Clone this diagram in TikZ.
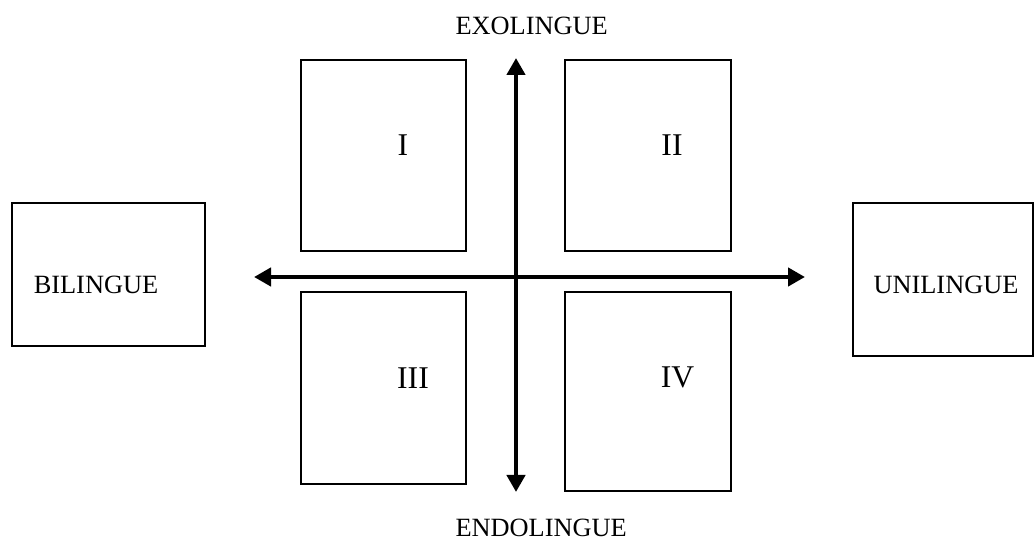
\documentclass[tikz,border=0pt]{standalone}
\usepackage{fontspec}
\setmainfont{Liberation Serif}
\usetikzlibrary{arrows.meta}

\tikzset{
  quad/.style={draw, line width=0.6, black, inner sep=0, outer sep=0},
  word/.style={align=center, anchor=base, font=\fontsize{15pt}{15pt}\selectfont},
  numeral/.style={align=center, anchor=base, font=\fontsize{18pt}{18pt}\selectfont},
  axis/.style={line width=2.8, black, {Triangle[width=0.36cm,length=0.34cm]}-{Triangle[width=0.36cm,length=0.34cm]}}
}

\begin{document}
\begin{tikzpicture}
            \useasboundingbox (0,0) rectangle (20.7,10.8);
            % left box
            \node [quad, minimum width=3.86cm, minimum height=2.86cm] (bili) at (2.17,5.31) {};
            \node [word] (bilitext) at (1.92,4.92) {BILINGUE};
            % right box
            \node [quad, minimum width=3.6cm, minimum height=3.06cm] (unili) at (18.86,5.21) {};
            \node [word] (unilitext) at (18.92,4.93) {UNILINGUE};
            % quadrant boxes
            \node [quad, minimum width=3.3cm, minimum height=3.82cm] (q1) at (7.67,7.69) {};
            \node [numeral] (n1) at (8.06,7.68) {I};
            \node [quad, minimum width=3.32cm, minimum height=3.82cm] (q2) at (12.96,7.69) {};
            \node [numeral] (n2) at (13.44,7.68) {II};
            \node [quad, minimum width=3.3cm, minimum height=3.84cm] (q3) at (7.67,3.04) {};
            \node [numeral] (n3) at (8.26,3.03) {III};
            \node [quad, minimum width=3.32cm, minimum height=3.98cm] (q4) at (12.96,2.97) {};
            \node [numeral] (n4) at (13.55,3.04) {IV};
            % axis ends
            \coordinate (top) at (10.32,9.64);
            \coordinate (bottom) at (10.32,0.96);
            \coordinate (left) at (5.08,5.26);
            \coordinate (right) at (16.1,5.26);
            % axes
            \draw [axis] (bottom) -- (top);
            \draw [axis] (left) -- (right);
            % axis labels
            \node [word, anchor=base east] (exo) at (12.28,10.11) {EXOLINGUE};
            \node [word, anchor=base east] (endo) at (12.66,0.066) {ENDOLINGUE};
\end{tikzpicture}
\end{document}
